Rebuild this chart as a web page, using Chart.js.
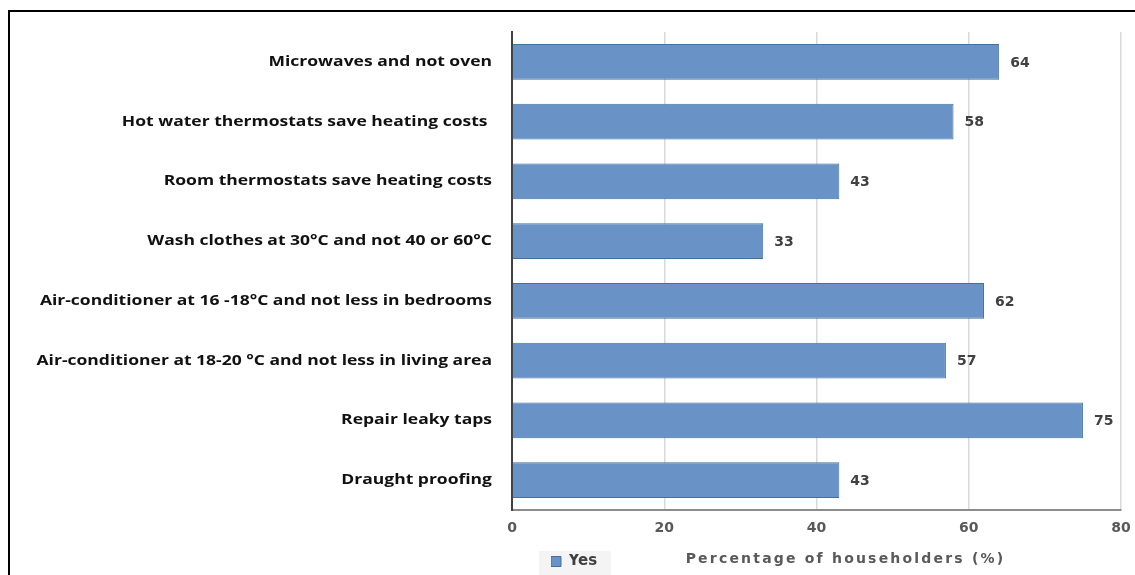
<!DOCTYPE html>
<html>
<head>
<meta charset="utf-8">
<script src="https://cdn.jsdelivr.net/npm/chart.js@4/dist/chart.umd.min.js"></script>
<style>
  html, body { margin: 0; padding: 0; background: #fff; }
  #wrap { position: relative; width: 1135px; height: 575px; overflow: hidden; }
  #frame { position: absolute; left: 8px; top: 10px; width: 1200px; height: 700px;
           border-left: 2px solid #000; border-top: 2px solid #000; }
  #chart { position: absolute; left: 0; top: 0; }
</style>
</head>
<body>
<div id="wrap">
  <div id="frame"></div>
  <canvas id="chart" width="1135" height="575"></canvas>
</div>
<script>
const categories = [
  "Microwaves and not oven",
  "Hot water thermostats save heating costs ",
  "Room thermostats save heating costs",
  "Wash clothes at 30°C and not 40 or 60°C",
  "Air-conditioner at 16 -18°C and not less in bedrooms",
  "Air-conditioner at 18-20 °C and not less in living area",
  "Repair leaky taps",
  "Draught proofing"
];
const yesValues = [64, 58, 43, 33, 62, 57, 75, 43];
const xTicks = [0, 20, 40, 60, 80];
const seriesName = "Yes";
const axisTitle = "Percentage of householders (%)";

// value labels at the end of each bar
const barValues = {
  id: "barValues",
  afterDatasetsDraw(chart) {
    const ctx = chart.ctx;
    ctx.save();
    ctx.font = "bold 14px 'DejaVu Sans'";
    ctx.fillStyle = "#404040";
    ctx.textBaseline = "middle";
    chart.getDatasetMeta(0).data.forEach((bar, i) => {
      ctx.fillText(chart.data.datasets[0].data[i], bar.x + 11, bar.y + 1);
    });
    ctx.restore();
  }
};

// put the legend on the same line as the axis title, like the original,
// and widen the category labels a bit (the source image is stretched)
const legendSpot = {
  id: "legendSpot",
  afterLayout(chart) {
    const lg = chart.legend;
    lg.left = 551;
    lg.top = 554;
    lg.right = lg.left + lg.width;
    lg.bottom = lg.top + 17;
    const xs = chart.scales.x;
    if (!xs._moved) {
      const orig = xs.drawTitle;
      xs.drawTitle = function () {
        const c = this.ctx;
        c.save();
        c.translate(29, 0);
        c.letterSpacing = "2.2px";
        orig.call(this);
        c.restore();
      };
      xs._moved = true;
    }
    const ys = chart.scales.y;
    if (!ys._wide) {
      const origLabels = ys.drawLabels;
      ys.drawLabels = function (area) {
        const c = this.ctx;
        const edge = this.right - 20;
        c.save();
        c.translate(edge, 0);
        c.scale(1.25, 1);
        c.translate(-edge, 0);
        origLabels.call(this, area);
        c.restore();
      };
      ys._wide = true;
    }
  },
  beforeDraw(chart) {
    const ctx = chart.ctx;
    ctx.save();
    ctx.fillStyle = "#f4f4f4";
    ctx.fillRect(539, 551, 72, 24);
    ctx.restore();
  }
};

new Chart(document.getElementById("chart").getContext("2d"), {
  type: "bar",
  data: {
    labels: categories,
    datasets: [
      {
        label: seriesName,
        data: yesValues,
        backgroundColor: "#6993c7",
        borderColor: "#41719c",
        borderWidth: 1,
        categoryPercentage: 1,
        barPercentage: 0.6
      }
    ]
  },
  options: {
    indexAxis: "y",
    responsive: false,
    animation: false,
    layout: { padding: { top: 32, right: 14, bottom: 0, left: 0 } },
    plugins: {
      legend: {
        position: "chartArea",
        align: "start",
        labels: {
          boxWidth: 10,
          boxHeight: 10,
          padding: 0,
          color: "#404040",
          font: { family: "'DejaVu Sans'", size: 15, weight: "bold" }
        }
      },
      tooltip: { enabled: false }
    },
    scales: {
      x: {
        min: 0,
        max: 80,
        afterBuildTicks(scale) {
          scale.ticks = xTicks.map(v => ({ value: v }));
        },
        afterFit(scale) {
          scale.height = 65;
          scale.paddingLeft = 0;
          scale.paddingRight = 0;
        },
        grid: { color: "#d9d9d9", lineWidth: 1.5, drawTicks: false },
        border: { display: true, color: "#8c8c8c", width: 2 },
        ticks: {
          padding: 10,
          color: "#595959",
          font: { family: "'DejaVu Sans'", size: 14, weight: "bold" }
        },
        title: {
          display: true,
          text: axisTitle,
          color: "#595959",
          padding: { top: 0, bottom: 7 },
          font: { family: "'DejaVu Sans'", size: 14, weight: "bold" }
        }
      },
      y: {
        afterFit(scale) {
          scale.width = 512;
        },
        grid: { display: false, drawTicks: false },
        border: { display: true, color: "#404040", width: 2 },
        ticks: {
          padding: 20,
          color: "#111",
          font: { family: "'Open Sans'", size: 14, weight: "bold" }
        }
      }
    }
  },
  plugins: [barValues, legendSpot]
});
</script>
</body>
</html>
